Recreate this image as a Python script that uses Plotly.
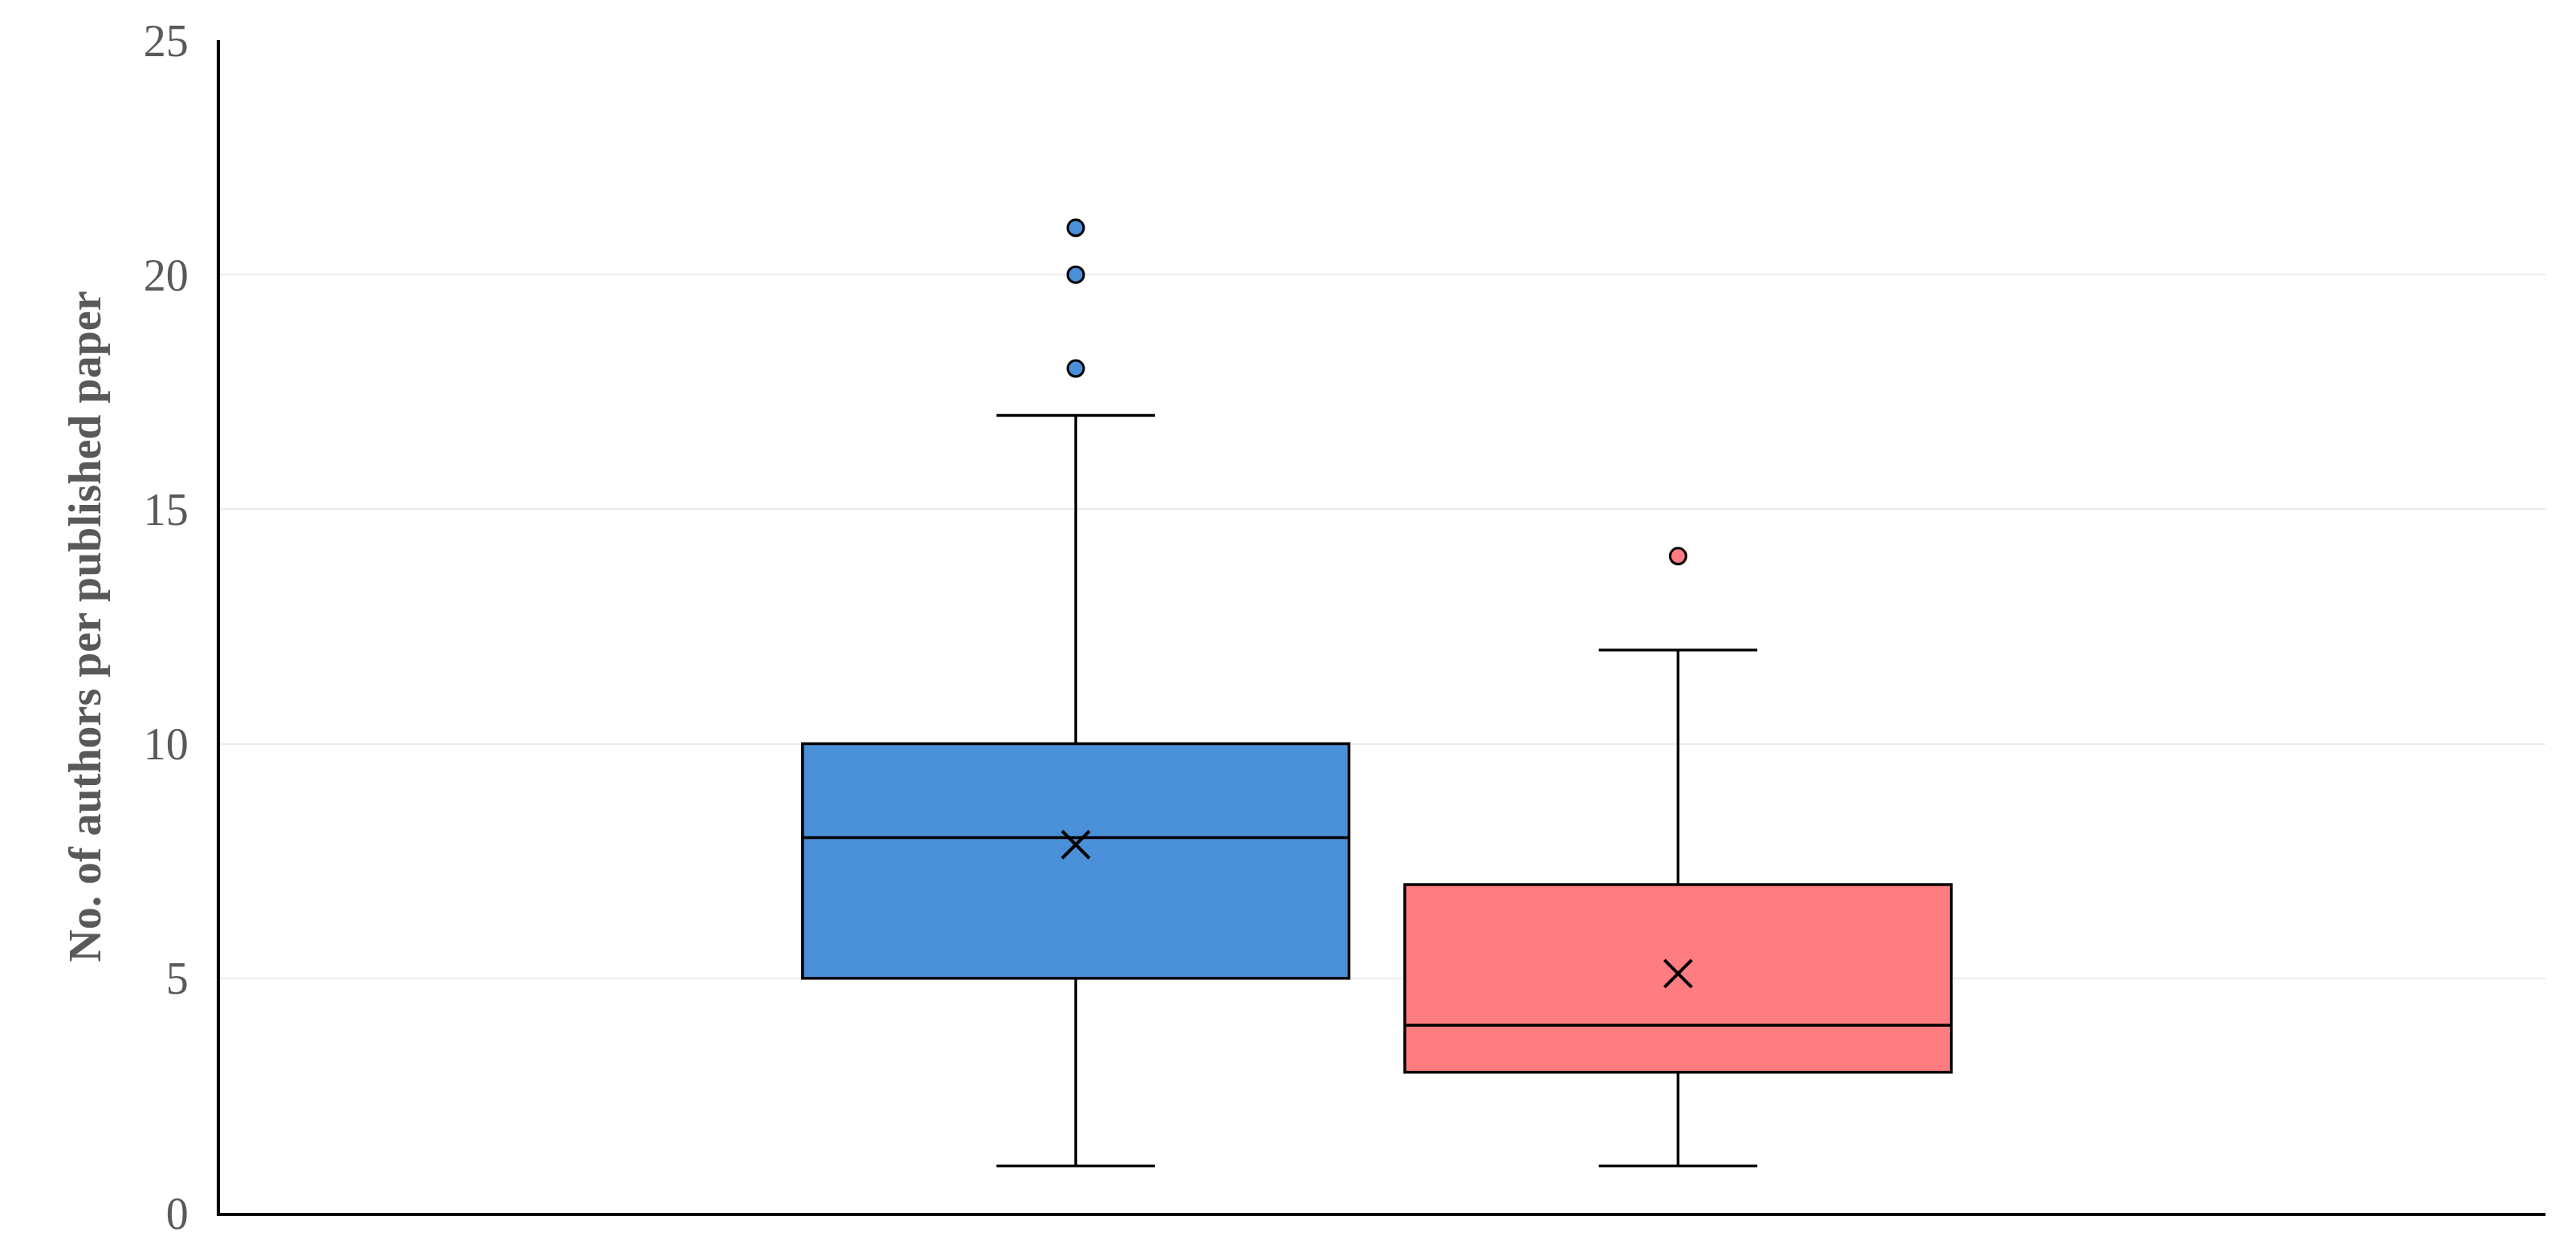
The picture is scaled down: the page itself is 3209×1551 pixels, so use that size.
import plotly.graph_objects as go

groups = ["A", "B"]
xpos = [0.368, 0.627]
q1 = [5, 3]
median = [8, 4]
q3 = [10, 7]
lower = [1, 1]
upper = [17, 12]
means = [7.85, 5.1]
outliers = [[18, 20, 21], [14]]
colors = ["#4a90d9", "#ff7c80"]
yticks = [0, 5, 10, 15, 20, 25]

fig = go.Figure()
for i in range(2):
    fig.add_trace(go.Box(
        x=[xpos[i]], q1=[q1[i]], median=[median[i]], q3=[q3[i]],
        lowerfence=[lower[i]], upperfence=[upper[i]],
        width=0.235, whiskerwidth=0.29, fillcolor=colors[i],
        line=dict(color="black", width=3.5), boxpoints=False, showlegend=False))
    fig.add_trace(go.Scatter(
        x=[xpos[i]], y=[means[i]], mode="markers",
        marker=dict(symbol="x-thin", size=34, line=dict(color="black", width=4)),
        showlegend=False))
    fig.add_trace(go.Scatter(
        x=[xpos[i]] * len(outliers[i]), y=outliers[i], mode="markers",
        marker=dict(size=20, color=colors[i], line=dict(color="black", width=3)),
        showlegend=False))

fig.update_layout(
    width=3209, height=1551, plot_bgcolor="white", paper_bgcolor="white",
    margin=dict(l=266, r=46, t=42, b=48),
    font=dict(family="Liberation Serif", color="#595959", size=54),
    xaxis=dict(range=[0, 1], showticklabels=False, showgrid=False, zeroline=False,
               showline=True, linecolor="black", linewidth=4),
    yaxis=dict(range=[0, 25], tickvals=yticks, showgrid=True, gridcolor="#ebebeb",
               gridwidth=2, zeroline=False, showline=True, linecolor="black", linewidth=4,
               ticks="outside", ticklen=24, tickcolor="white", tickfont=dict(size=56),
               title=dict(text="<b>No. of authors per published paper</b>",
                          font=dict(size=56, color="#595959"), standoff=36)),
)
fig.write_html("out.html")
